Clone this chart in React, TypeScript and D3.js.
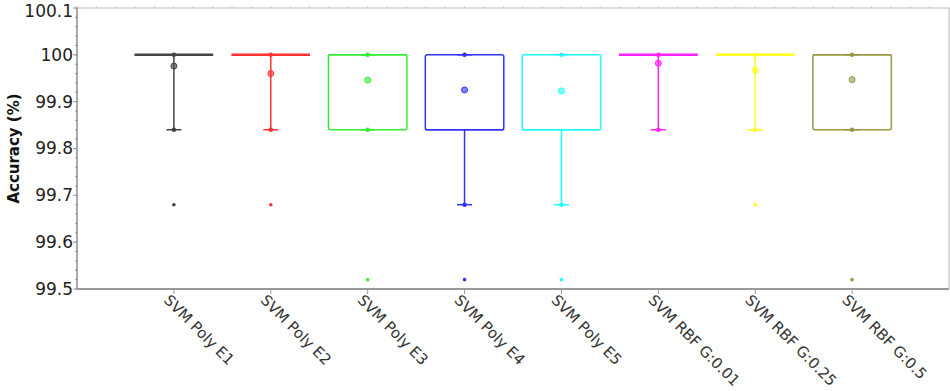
import React, { useEffect, useRef } from 'react';
import * as d3 from 'd3';

const categories = [
  'SVM Poly E1', 'SVM Poly E2', 'SVM Poly E3', 'SVM Poly E4',
  'SVM Poly E5', 'SVM RBF G:0.01', 'SVM RBF G:0.25', 'SVM RBF G:0.5',
];
const colors = ['#444444', '#ff3333', '#33ee33', '#3333ff', '#22ffff', '#ff22ff', '#ffff22', '#999944'];
const q1 = [100, 100, 99.84, 99.84, 99.84, 100, 100, 99.84];
const medians = [100, 100, 100, 99.84, 99.84, 100, 100, 100];
const q3 = [100, 100, 100, 100, 100, 100, 100, 100];
const whiskerLow = [99.84, 99.84, 99.84, 99.68, 99.68, 99.84, 99.84, 99.84];
const whiskerHigh = [100, 100, 100, 100, 100, 100, 100, 100];
const means = [99.976, 99.96, 99.946, 99.925, 99.923, 99.982, 99.967, 99.947];
const outliers = [[99.68], [99.68], [99.52], [99.52], [99.52], [], [99.68], [99.52]];
const yTicks = [99.5, 99.6, 99.7, 99.8, 99.9, 100, 100.1];

const W = 950;
const H = 391;
const left = 77;
const right = 949;
const top = 8;
const bottom = 289;

const App = () => {
  const svgRef = useRef<SVGSVGElement>(null);

  useEffect(() => {
    const svg = d3.select(svgRef.current);
    svg.selectAll('*').remove();

    const x = d3.scalePoint<string>().domain(categories).range([left, right]).padding(1);
    const y = d3.scaleLinear().domain([99.5, 100.1]).range([bottom, top]);
    const boxW = x.step() * 0.81;
    const capW = 15;
    const axisColor = '#999';

    // frame
    svg.append('rect')
      .attr('x', left).attr('y', top)
      .attr('width', right - left).attr('height', bottom - top)
      .attr('fill', 'none').attr('stroke', '#bbb').attr('stroke-width', 1);

    // minor ticks on left and top
    const minor = d3.range(99.5, 100.1001, 0.02);
    svg.append('g').selectAll('line').data(minor).enter().append('line')
      .attr('x1', left - 2).attr('x2', left + 1)
      .attr('y1', d => y(d)).attr('y2', d => y(d))
      .attr('stroke', axisColor);
    const topMinor = d3.range(left, right, x.step() / 5);
    svg.append('g').selectAll('line').data(topMinor).enter().append('line')
      .attr('x1', d => d).attr('x2', d => d)
      .attr('y1', top - 2).attr('y2', top)
      .attr('stroke', '#ccc');

    // left axis
    svg.append('line')
      .attr('x1', left).attr('x2', left).attr('y1', top).attr('y2', bottom)
      .attr('stroke', axisColor).attr('stroke-width', 1.5);
    svg.append('g').selectAll('line').data(yTicks).enter().append('line')
      .attr('x1', left - 4).attr('x2', left)
      .attr('y1', d => y(d)).attr('y2', d => y(d))
      .attr('stroke', axisColor);
    svg.append('g').selectAll('text').data(yTicks).enter().append('text')
      .attr('x', left - 4).attr('y', d => Math.max(y(d), 11))
      .attr('dy', '0.35em')
      .attr('text-anchor', 'end')
      .style('font-family', '"DejaVu Sans", Verdana, sans-serif')
      .style('font-size', '17px')
      .style('fill', '#222')
      .text(d => d3.format('~g')(d));

    svg.append('text')
      .attr('transform', `translate(19, ${(top + bottom) / 2}) rotate(-90)`)
      .attr('text-anchor', 'middle')
      .style('font-family', '"DejaVu Sans", Verdana, sans-serif')
      .style('font-size', '15px')
      .style('font-weight', 'bold')
      .style('fill', '#111')
      .text('Accuracy (%)');

    // bottom axis
    svg.append('line')
      .attr('x1', left).attr('x2', right).attr('y1', bottom).attr('y2', bottom)
      .attr('stroke', axisColor).attr('stroke-width', 2);
    svg.append('g').selectAll('line').data(categories).enter().append('line')
      .attr('x1', d => x(d)!).attr('x2', d => x(d)!)
      .attr('y1', bottom).attr('y2', bottom + 5)
      .attr('stroke', axisColor);
    svg.append('g').selectAll('text').data(categories).enter().append('text')
      .attr('transform', d => `translate(${x(d)! - 3}, ${bottom + 4}) rotate(45)`)
      .attr('dy', '0.75em')
      .attr('text-anchor', 'start')
      .style('font-family', '"DejaVu Sans", Verdana, sans-serif')
      .style('font-size', '15px')
      .style('fill', '#333')
      .text(d => d);

    // boxes
    const g = svg.append('g');
    categories.forEach((c, i) => {
      const cx = x(c)!;
      const col = colors[i];
      const bg = g.append('g').attr('stroke', col).attr('stroke-width', 1.5).attr('fill', 'none');
      // whiskers
      bg.append('line').attr('x1', cx).attr('x2', cx)
        .attr('y1', y(whiskerLow[i])).attr('y2', y(q1[i]));
      bg.append('line').attr('x1', cx).attr('x2', cx)
        .attr('y1', y(whiskerHigh[i])).attr('y2', y(q3[i]));
      [whiskerLow[i], whiskerHigh[i]].forEach(v => {
        bg.append('line').attr('x1', cx - capW / 2).attr('x2', cx + capW / 2)
          .attr('y1', y(v)).attr('y2', y(v));
        bg.append('circle').attr('cx', cx).attr('cy', y(v)).attr('r', 1.5).attr('fill', col);
      });
      // box
      const h = y(q1[i]) - y(q3[i]);
      if (h > 0) {
        bg.append('rect')
          .attr('x', cx - boxW / 2).attr('y', y(q3[i]))
          .attr('width', boxW).attr('height', h)
          .attr('rx', 2);
      } else {
        bg.append('line').attr('x1', cx - boxW / 2).attr('x2', cx + boxW / 2)
          .attr('y1', y(q3[i])).attr('y2', y(q3[i])).attr('stroke-width', 2.5);
      }
      bg.append('line').attr('x1', cx - boxW / 2).attr('x2', cx + boxW / 2)
        .attr('y1', y(medians[i])).attr('y2', y(medians[i]));
      // mean
      bg.append('circle').attr('cx', cx).attr('cy', y(means[i])).attr('r', 3)
        .attr('fill', col).attr('fill-opacity', 0.6).attr('stroke-width', 1);
      // outliers
      outliers[i].forEach(v => {
        g.append('circle').attr('cx', cx).attr('cy', y(v)).attr('r', 1.8).attr('fill', col);
      });
    });
  }, []);

  return (
    <svg ref={svgRef} width={W} height={H} style={{ position: 'absolute', left: 0, top: 0, background: '#fff' }} />
  );
};

export default App;
